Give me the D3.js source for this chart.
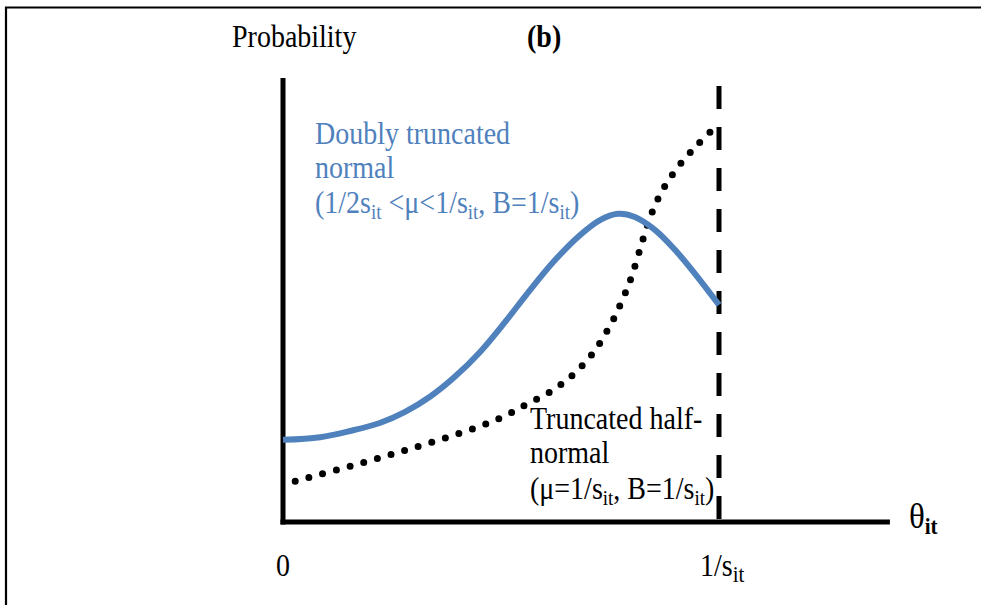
<!DOCTYPE html>
<html>
<head>
<meta charset="utf-8">
<script src="https://cdn.jsdelivr.net/npm/d3@7"></script>
<style>
  html, body { margin: 0; padding: 0; background: #fff; }
  svg { display: block; }
  text { font-family: "Liberation Serif", "Times New Roman", serif; }
</style>
</head>
<body>
<svg id="chart" width="981" height="605"></svg>
<script>
// ---- data (x in units of 1/s_it, y in arbitrary probability units) ----
const blueX = [0, 0.085, 0.154, 0.222, 0.280, 0.337, 0.394, 0.452, 0.509, 0.567, 0.624, 0.681, 0.727, 0.768, 0.807, 0.853, 0.899, 0.945, 1.0];
const blueY = [0.185, 0.191, 0.205, 0.223, 0.248, 0.282, 0.327, 0.383, 0.450, 0.523, 0.590, 0.646, 0.680, 0.694, 0.687, 0.658, 0.613, 0.559, 0.489];
const dotX = [0.028, 0.156, 0.282, 0.406, 0.498, 0.557, 0.619, 0.672, 0.716, 0.752, 0.768, 0.796, 0.817, 0.839, 0.867, 0.904, 0.950, 0.998];
const dotY = [0.092, 0.126, 0.162, 0.200, 0.234, 0.264, 0.297, 0.338, 0.387, 0.446, 0.477, 0.543, 0.608, 0.678, 0.741, 0.797, 0.849, 0.896];
const tickValues = [0, 1];
const tickLabels = [["0"], ["1/s", "it"]];
const boundX = 1;      // truncation bound B = 1/s_it
const axisXMax = 1.392;
const axisYMax = 1;
const boundTop = 0.982;

const svg = d3.select("#chart");
const x = d3.scaleLinear().domain([0, 1]).range([283, 719]);
const y = d3.scaleLinear().domain([0, 1]).range([522, 78]);

// frame
svg.append("path").attr("d", "M6,605 L6,7.5 L981,7.5")
  .attr("fill", "none").attr("stroke", "#000").attr("stroke-width", 2.2);

// dashed bound
svg.append("line")
  .attr("x1", x(boundX)).attr("x2", x(boundX))
  .attr("y1", y(boundTop)).attr("y2", y(0))
  .attr("stroke", "#000").attr("stroke-width", 5)
  .attr("stroke-dasharray", "23 18");

// axes
svg.append("line").attr("x1", x(0)).attr("x2", x(0)).attr("y1", y(axisYMax)).attr("y2", y(0) + 2.5)
  .attr("stroke", "#000").attr("stroke-width", 5);
svg.append("line").attr("x1", x(0) - 2.5).attr("x2", x(axisXMax)).attr("y1", y(0)).attr("y2", y(0))
  .attr("stroke", "#000").attr("stroke-width", 5);

// curves
const line = d3.line().x(d => x(d[0])).y(d => y(d[1])).curve(d3.curveCatmullRom.alpha(0.5));
svg.append("path").datum(dotX.map((v, i) => [v, dotY[i]]))
  .attr("d", line).attr("fill", "none").attr("stroke", "#000")
  .attr("stroke-width", 7).attr("stroke-linecap", "round").attr("stroke-dasharray", "0 14.2");
svg.append("path").datum(blueX.map((v, i) => [v, blueY[i]]))
  .attr("d", line).attr("fill", "none").attr("stroke", "#4f81bd")
  .attr("stroke-width", 6);

// helper for text with subscripts (slightly tall glyphs, like the reference)
function rich(parent, xx, yy, parts, opts = {}) {
  const t = parent.append("text")
    .attr("transform", `translate(${xx},${yy}) scale(1,1.1)`)
    .attr("font-size", opts.size || 28).attr("fill", opts.fill || "#000");
  if (opts.weight) t.attr("font-weight", opts.weight);
  let sub = false;
  parts.forEach((p, i) => {
    const isSub = i % 2 === 1;
    const ts = t.append("tspan").text(p);
    if (isSub) {
      ts.attr("font-size", opts.subSize || 19).attr("dy", 5.5);
      if (opts.subWeight) ts.attr("font-weight", opts.subWeight);
      sub = true;
    } else if (sub) {
      ts.attr("dy", -5.5);
      sub = false;
    }
  });
  return t;
}

// titles
rich(svg, 232, 47, ["Probability"]);
rich(svg, 527, 47, ["(b)"], { weight: "bold" });

// tick labels
tickValues.forEach((v, i) => {
  rich(svg, x(v) - (i === 0 ? 7 : 19), 576, tickLabels[i], { subSize: 21 });
});
// axis title
rich(svg, x(axisXMax) + 19, 528, ["θ", "it"], { size: 33, subSize: 21, subWeight: "bold" });

// blue label
const blue = "#4f81bd";
rich(svg, 315, 144, ["Doubly truncated"], { fill: blue });
rich(svg, 315, 178, ["normal"], { fill: blue });
rich(svg, 315, 213, ["(1/2s", "it", " <μ<1/s", "it", ", B=1/s", "it", ")"], { fill: blue });

// black label
rich(svg, 530, 429, ["Truncated half-"]);
rich(svg, 530, 463, ["normal"]);
rich(svg, 530, 499, ["(μ=1/s", "it", ", B=1/s", "it", ")"]);
</script>
</body>
</html>
